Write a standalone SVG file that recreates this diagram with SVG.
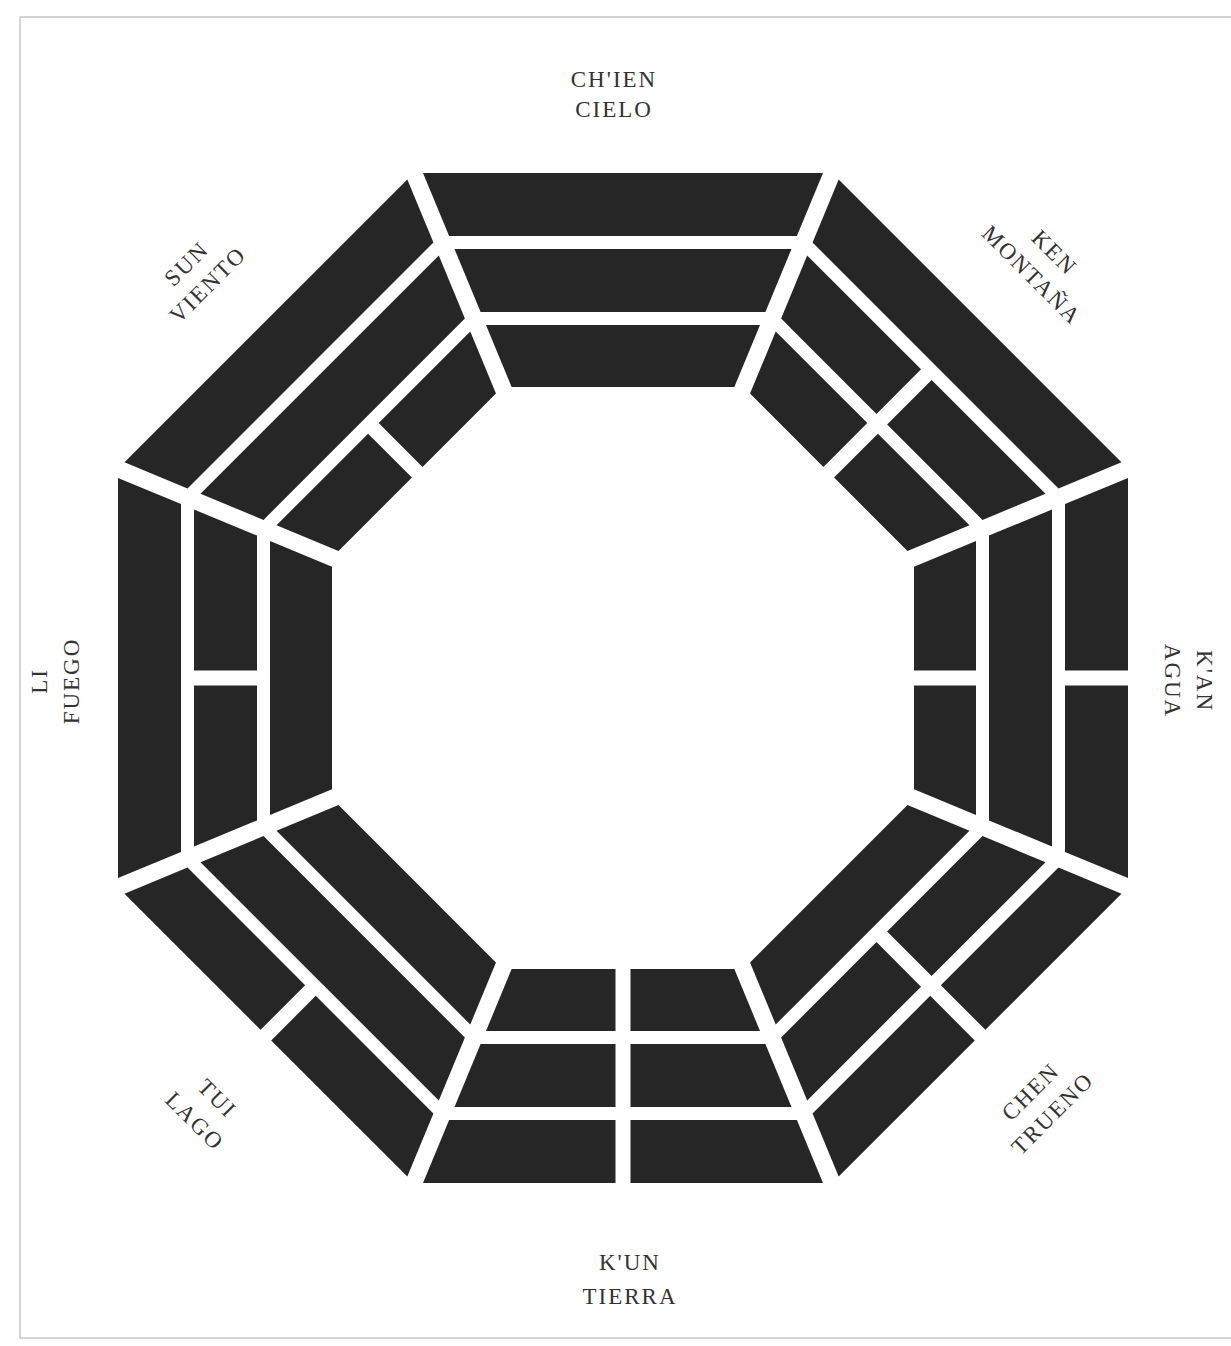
<svg xmlns="http://www.w3.org/2000/svg" width="1231" height="1346" viewBox="0 0 1231 1346">
<style>
.bar{fill:#262626}
.lbl{font-family:"Liberation Serif","Times New Roman",serif;font-size:23px;letter-spacing:2px;fill:#333333;text-anchor:middle}
.frame{fill:none;stroke:#c8c8c8;stroke-width:1.5}
</style>
<defs>
<polygon id="oS" points="-200,-505 200,-505 173.88,-442 -173.88,-442"/>
<g id="oB"><polygon points="-200,-505 -7.5,-505 -7.5,-442 -173.88,-442"/><polygon points="200,-505 7.5,-505 7.5,-442 173.88,-442"/></g>
<polygon id="mS" points="-168.5,-429 168.5,-429 142.4,-366 -142.4,-366"/>
<g id="mB"><polygon points="-168.5,-429 -7.5,-429 -7.5,-366 -142.4,-366"/><polygon points="168.5,-429 7.5,-429 7.5,-366 142.4,-366"/></g>
<polygon id="iS" points="-137.02,-353 137.02,-353 111.34,-291 -111.34,-291"/>
<g id="iB"><polygon points="-137.02,-353 -7.5,-353 -7.5,-291 -111.34,-291"/><polygon points="137.02,-353 7.5,-353 7.5,-291 111.34,-291"/></g>
</defs>
<rect x="0" y="0" width="1231" height="1346" fill="#ffffff"/>
<polyline class="frame" points="1231,17 20,17 20,1338 1231,1338"/>

<g id="connectors"/>

<g id="chien">
  <g transform="translate(623,678) rotate(0)">
    <use href="#oS" class="bar"/><use href="#mS" class="bar"/><use href="#iS" class="bar"/>
  </g>
  <text class="lbl" x="614" y="87">CH'IEN</text>
  <text class="lbl" x="614" y="117">CIELO</text>
</g>

<g id="ken">
  <g transform="translate(623,678) rotate(45)">
    <use href="#oS" class="bar"/><use href="#mB" class="bar"/><use href="#iB" class="bar"/>
  </g>
  <g transform="translate(1049,258) rotate(45)">
    <text class="lbl" x="0" y="0">KEN</text>
    <text class="lbl" x="0" y="32">MONTAÑA</text>
  </g>
</g>

<g id="kan">
  <g transform="translate(623,678) rotate(90)">
    <use href="#oB" class="bar"/><use href="#mS" class="bar"/><use href="#iB" class="bar"/>
  </g>
  <g transform="translate(1197,681) rotate(90)">
    <text class="lbl" x="0" y="0">K'AN</text>
    <text class="lbl" x="0" y="32">AGUA</text>
  </g>
</g>

<g id="chen">
  <g transform="translate(623,678) rotate(135)">
    <use href="#oB" class="bar"/><use href="#mB" class="bar"/><use href="#iS" class="bar"/>
  </g>
  <g transform="translate(1036,1097) rotate(-45)">
    <text class="lbl" x="0" y="0">CHEN</text>
    <text class="lbl" x="0" y="31">TRUENO</text>
  </g>
</g>

<g id="kun">
  <g transform="translate(623,678) rotate(180)">
    <use href="#oB" class="bar"/><use href="#mB" class="bar"/><use href="#iB" class="bar"/>
  </g>
  <text class="lbl" x="630" y="1270">K'UN</text>
  <text class="lbl" x="630" y="1304">TIERRA</text>
</g>

<g id="tui">
  <g transform="translate(623,678) rotate(225)">
    <use href="#oB" class="bar"/><use href="#mS" class="bar"/><use href="#iS" class="bar"/>
  </g>
  <g transform="translate(212,1104) rotate(45)">
    <text class="lbl" x="0" y="0">TUI</text>
    <text class="lbl" x="0" y="32">LAGO</text>
  </g>
</g>

<g id="li">
  <g transform="translate(623,678) rotate(270)">
    <use href="#oS" class="bar"/><use href="#mB" class="bar"/><use href="#iS" class="bar"/>
  </g>
  <g transform="translate(47,681) rotate(-90)">
    <text class="lbl" x="0" y="0">LI</text>
    <text class="lbl" x="0" y="32">FUEGO</text>
  </g>
</g>

<g id="sun">
  <g transform="translate(623,678) rotate(315)">
    <use href="#oS" class="bar"/><use href="#mS" class="bar"/><use href="#iB" class="bar"/>
  </g>
  <g transform="translate(192,269) rotate(-45)">
    <text class="lbl" x="0" y="0">SUN</text>
    <text class="lbl" x="0" y="30">VIENTO</text>
  </g>
</g>
</svg>
